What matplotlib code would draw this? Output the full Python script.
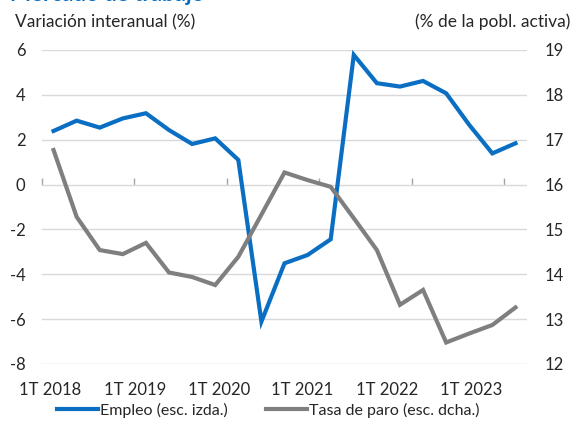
import matplotlib
matplotlib.use("Agg")
import matplotlib.pyplot as plt
from matplotlib.lines import Line2D

plt.rcParams['font.family'] = ['Lato', 'DejaVu Sans']
plt.rcParams['axes.unicode_minus'] = False

# Data (quarterly, 1T 2018 .. 1T 2023)
quarters = ['1T 2018', '2T 2018', '3T 2018', '4T 2018',
            '1T 2019', '2T 2019', '3T 2019', '4T 2019',
            '1T 2020', '2T 2020', '3T 2020', '4T 2020',
            '1T 2021', '2T 2021', '3T 2021', '4T 2021',
            '1T 2022', '2T 2022', '3T 2022', '4T 2022',
            '1T 2023']
empleo = [2.39, 2.85, 2.54, 2.95, 3.18, 2.43, 1.81, 2.06, 1.10, -6.11,
          -3.51, -3.14, -2.44, 5.78, 4.52, 4.37, 4.62, 4.07, 2.66, 1.39, 1.84]
paro = [16.77, 15.28, 14.54, 14.45, 14.70, 14.04, 13.94, 13.76, 14.39, 15.33,
        16.27, 16.10, 15.95, 15.25, 14.54, 13.32, 13.65, 12.48, 12.68, 12.87, 13.26]
xlabels = ['1T 2018', '1T 2019', '1T 2020', '1T 2021', '1T 2022', '1T 2023']
xlabel_pos = [-0.13, 3.53, 7.15, 10.78, 14.44, 18.06]
xtick_pos = [-0.5, 3.5, 7.5, 11.5, 15.5, 19.5]

BLUE = '#0A6FC2'
GRAY = '#7F7F7F'
TXT = '#262626'

fig = plt.figure(figsize=(5.71, 4.22), dpi=100)
ax = fig.add_axes([42/571, 1-364/422, (527-42)/571, (364-50)/422])
ax2 = ax.twinx()

x = list(range(len(quarters)))
ax.plot(x, empleo, color=BLUE, lw=3.0, solid_joinstyle='miter', zorder=3)
ax2.plot(x, paro, color=GRAY, lw=3.0, solid_joinstyle='miter', zorder=3)

ax.set_xlim(-0.5, 20.5)
ax.set_ylim(-8, 6)
ax2.set_ylim(12, 19)
ax.set_yticks(range(-8, 7, 2))
ax2.set_yticks(range(12, 20))

ax.grid(axis='y', color='#D9D9D9', lw=1.0)
ax.set_axisbelow(True)
for a in (ax, ax2):
    for s in a.spines.values():
        s.set_visible(False)

ax.tick_params(axis='y', length=0, pad=12, labelsize=12, labelcolor=TXT)
ax2.tick_params(axis='y', length=0, pad=13, labelsize=12, labelcolor=TXT)

# bottom labels
ax.set_xticks(xlabel_pos)
ax.set_xticklabels(xlabels)
ax.tick_params(axis='x', length=0, pad=13, labelsize=12, labelcolor=TXT)

# category axis at y=0 with tick marks
sec = ax.secondary_xaxis(8/14)
sec.set_xticks(xtick_pos)
sec.set_xticklabels([])
sec.tick_params(axis='x', direction='out', length=5, color='#A6A6A6', width=1)
sec.spines['bottom'].set_color('#A6A6A6')
sec.spines['bottom'].set_linewidth(1)
sec.spines['top'].set_visible(False)

fig.text(15/571, 1-22/422, 'Variación interanual (%)', fontsize=12.5,
         color=TXT, ha='left', va='center')
fig.text(570/571, 1-22/422, '(% de la pobl. activa)', fontsize=12.5,
         color=TXT, ha='right', va='center')
fig.text(10/571, 1-1/422, 'Mercado de trabajo', fontsize=16, fontweight='bold',
         color=BLUE, ha='left', va='baseline')

handles = [Line2D([], [], color=BLUE, lw=3.0),
           Line2D([], [], color=GRAY, lw=3.0)]
fig.legend(handles, ['Empleo (esc. izda.)', 'Tasa de paro (esc. dcha.)'],
           loc='center', bbox_to_anchor=(268/571, 1-410/422), ncol=2,
           frameon=False, fontsize=11.5, handlelength=2.6, handletextpad=0.1,
           columnspacing=2.4, labelcolor=TXT)

fig.savefig('out.png', dpi=100)
